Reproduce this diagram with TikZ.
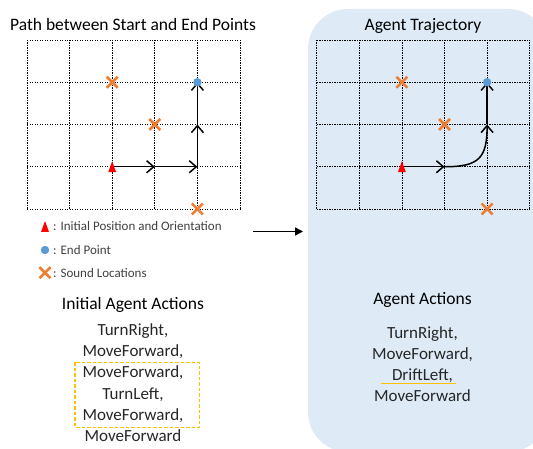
\documentclass[tikz,border=0pt]{standalone}
\usepackage{fontspec}
\setmainfont{Carlito}
\usetikzlibrary{arrows.meta,calc}
\definecolor{panelblue}{RGB}{222,235,247}
\definecolor{xorange}{RGB}{237,125,49}
\definecolor{dotblue}{RGB}{91,155,213}
\definecolor{boxyellow}{RGB}{255,192,0}
\definecolor{txtgray}{RGB}{38,38,38}
\definecolor{leggray}{RGB}{64,64,64}
\begin{document}
\begin{tikzpicture}[x=1pt,y=-1pt,
  gridline/.style={line width=0.8pt, dash pattern=on 1.4pt off 1.1pt},
  pathline/.style={line width=1.5pt, -{Straight Barb[length=7pt,width=12pt]}},
  title/.style={inner sep=0pt, font=\fontsize{17.5}{21}\selectfont, text=black},
  actline/.style={inner sep=0pt, font=\fontsize{17}{21}\selectfont, text=txtgray},
  legtext/.style={inner sep=0pt, font=\fontsize{13}{16}\selectfont, text=leggray, anchor=base west},
  soundx/.pic={\draw[xorange, line width=2.6pt] (-5.5,-5.5) -- (5.5,5.5) (-5.5,5.5) -- (5.5,-5.5);},
  starttri/.pic={\fill[red] (0,-5.5) -- (-4,5.5) -- (4,5.5) -- cycle;},
  enddot/.pic={\fill[dotblue] (0,0) circle (4.2);},
  hilite/.style={draw=boxyellow, line width=1.6pt}
]
\clip (0,0) rectangle (533,449);
% panel
\fill[panelblue, rounded corners=40pt] (308,9) rectangle (548,452);
% highlight marks (drawn before text)
\draw[hilite, dash pattern=on 3.5pt off 2pt] (75,362.3) rectangle (199.3,427.3);
\draw[hilite] (381,383.5) -- (456,383.5);
% grids
\foreach \ox/\nm in {27/L, 316.7/R} {
  \foreach \i in {0,...,5} \draw[gridline] (\ox+\i*42.6,40) -- (\ox+\i*42.6,209);
  \foreach \j in {0,...,4} \draw[gridline] (\ox,40+\j*42.25) -- (\ox+213,40+\j*42.25);
  \foreach \i in {0,...,5} \foreach \j in {0,...,4}
    \coordinate (\nm-\i-\j) at (\ox+\i*42.6, 40+\j*42.25);
}
% left path
\draw[pathline] (L-2-3) -- (L-3-3);
\draw[pathline] (L-3-3) -- (L-4-3);
\draw[pathline] (L-4-3) -- (L-4-2);
\draw[pathline] (L-4-2) -- (L-4-1);
% right path
\draw[pathline] (R-2-3) -- (R-3-3);
\draw[pathline] (R-3-3) .. controls ($(R-3-3)+(34,0)$) and ($(R-4-2)+(0,34)$) .. (R-4-2);
\draw[pathline] (R-4-2) -- (R-4-1);
% markers
\foreach \nm in {L,R} {
  \pic at (\nm-2-3) {starttri};
  \pic at (\nm-4-1) {enddot};
  \pic at (\nm-2-1) {soundx};
  \pic at (\nm-3-2) {soundx};
  \pic at (\nm-4-4) {soundx};
}
% titles
\node[title, anchor=base] (t1) at (133,31) {Path between Start and End Points};
\node[title, anchor=base] (t2) at (423,31) {Agent Trajectory};
% legend
\pic at (45,226.5) {starttri};
\pic at (45,250) {enddot};
\pic at (45,272.7) {soundx};
\node[legtext] (lg1) at (53,231) {: Initial Position and Orientation};
\node[legtext] (lg2) at (53,254.5) {: End Point};
\node[legtext] (lg3) at (53,277) {: Sound Locations};
% arrow between panels
\coordinate (arrS) at (253,231.5);
\coordinate (arrE) at (303,231.5);
\draw[line width=1.6pt, -{Triangle[length=8pt,width=8pt]}] (arrS) -- (arrE);
% left actions
\node[title, anchor=base] (h1) at (133,309) {Initial Agent Actions};
\node[actline, anchor=base] (a1) at (133,335) {TurnRight,};
\node[actline, anchor=base] (a2) at (133,356.5) {MoveForward,};
\node[actline, anchor=base] (a3) at (133,377.8) {MoveForward,};
\node[actline, anchor=base] (a4) at (133,399.1) {TurnLeft,};
\node[actline, anchor=base] (a5) at (133,420.4) {MoveForward,};
\node[actline, anchor=base] (a6) at (133,441.7) {MoveForward};
% right actions
\node[title, anchor=base] (h2) at (422.5,305) {Agent Actions};
\node[actline, anchor=base] (b1) at (422.5,338.3) {TurnRight,};
\node[actline, anchor=base] (b2) at (422.5,359.3) {MoveForward,};
\node[actline, anchor=base] (b3) at (422.5,380.2) {DriftLeft,};
\node[actline, anchor=base] (b4) at (422.5,401.2) {MoveForward};
\end{tikzpicture}
\end{document}
